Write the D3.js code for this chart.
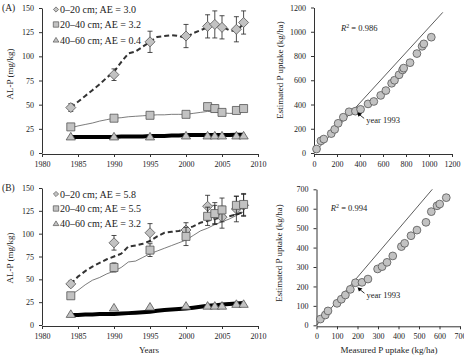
<!DOCTYPE html>
<html>
<head>
<meta charset="utf-8">
<script src="https://cdn.jsdelivr.net/npm/d3@7"></script>
<style>
  body { margin: 0; background: #fff; }
  svg { display: block; font-family: "Liberation Serif", serif; }
</style>
</head>
<body>
<div id="chart"></div>
<script>
// sampling years (measured points)
const years = [1984, 1990, 1995, 2000, 2003, 2004, 2005, 2007, 2008];
// yearly simulated values
const simYears = [1984, 1985, 1986, 1987, 1988, 1989, 1990, 1991, 1992, 1993, 1994, 1995, 1996,
                  1997, 1998, 1999, 2000, 2001, 2002, 2003, 2004, 2005, 2006, 2007, 2008];

// Panel A
const aTop = [47, 81, 115, 121, 131, 133, 130, 128, 135];
const aTopErr = [4, 6, 11, 12, 12, 14, 12, 13, 12];
const aMid = [27, 36, 39, 40, 48, 46, 42, 44, 46];
const aLow = [17, 17, 17, 18, 18, 18, 18, 18, 18];
const aTopSim = [47, 53, 59, 65, 71, 78, 84, 94, 103, 105, 110, 115, 120, 121, 122, 121, 119, 124, 127, 130, 133, 131, 127, 126, 134];
const aMidSim = [26, 28, 29.5, 31, 33, 34.5, 36, 36.5, 37.5, 38, 38.5, 39, 39.5, 39.5, 40, 40, 40, 41, 42, 43, 42.5, 41.5, 41, 41, 43];
const aLowSim = [16.5, 16.5, 16.5, 16.5, 16.5, 16.5, 16.5, 17, 17, 17, 17, 17.5, 17.5, 17.5, 18, 18, 18.5, 18.5, 18.5, 18.5, 18.5, 18.5, 18.5, 19, 19];
const aLegend = ["0\u201320 cm; AE = 3.0", "20\u201340 cm; AE = 3.2", "40\u201360 cm; AE = 0.4"];

// Panel B
const bTop = [45, 90, 101, 104, 130, 121, 118, 127, 131];
const bTopErr = [3, 8, 10, 8, 12, 10, 12, 14, 12];
const bMid = [32, 63, 82, 97, 119, 122, 126, 131, 132];
const bMidErr = [2, 5, 7, 10, 10, 12, 13, 10, 12];
const bLow = [12, 19, 20, 21, 21, 21, 21, 23, 23];
const bTopSim = [45, 53, 59, 64, 68, 72, 75, 78, 86, 87, 89, 92, 97, 101, 102, 103, 105, 108, 112, 114, 116, 118, 119, 121, 124];
const bMidSim = [33, 38, 44, 49, 52, 56, 59, 63, 69, 70, 74, 78, 81, 84, 87, 90, 93, 98, 103, 106, 110, 113, 116, 120, 124];
const bLowSim = [11, 11, 11.5, 11.5, 12, 12, 12, 12.5, 13, 13.5, 14, 14.5, 15.5, 16.5, 17, 17.5, 18, 19, 20, 21, 21.5, 22.5, 23, 23.5, 24];
const bLegend = ["0\u201320 cm; AE = 5.8", "20\u201340 cm; AE = 5.5", "40\u201360 cm; AE = 3.2"];

// Scatter (measured vs estimated cumulative P uptake)
const measA = [22, 60, 85, 150, 180, 210, 255, 305, 360, 405, 470, 520, 580, 625, 675, 700, 740, 770, 780, 835, 895, 940, 955, 1020];
const estA  = [33, 100, 115, 160, 195, 245, 295, 340, 345, 360, 405, 425, 475, 515, 575, 600, 645, 685, 700, 745, 820, 880, 900, 955];
const lineA = [[0, 0], [1120, 1160]];
const measB = [19, 43, 56, 100, 121, 141, 165, 190, 222, 251, 298, 320, 344, 372, 414, 430, 461, 490, 534, 560, 588, 601, 633];
const estB  = [32, 53, 74, 113, 134, 156, 185, 219, 221, 238, 290, 302, 324, 357, 405, 422, 461, 490, 530, 585, 615, 624, 657];
const lineB = [[0, 0], [565, 700]];

const W = 464, H = 358;
const svg = d3.select("#chart").append("svg").attr("width", W).attr("height", H);

const fill = "#c2c2c2", edge = "#555";
const diamond = r => `M0,${-r}L${r},0L0,${r}L${-r},0Z`;
const square = r => `M${-r},${-r}H${r}V${r}H${-r}Z`;
const triangle = r => `M0,${-r}L${r * 1.1},${r * 0.8}L${-r * 1.1},${r * 0.8}Z`;

function styleAxis(g)
{
    g.selectAll("path,line").attr("stroke", "#333");
    g.selectAll("text").attr("fill", "#222").style("font-size", "8px").style("font-family", "Liberation Serif");
}

function drawTimePanel(cfg)
{
    const x = d3.scaleLinear().domain([1980, 2010]).range([42, 258]);
    const y = d3.scaleLinear().domain([0, 150]).range(cfg.yRange);
    const g = svg.append("g");

    g.append("g")
        .attr("transform", "translate(0," + (y(0) + 1) + ")")
        .call(d3.axisBottom(x).tickValues([1980, 1985, 1990, 1995, 2000, 2005, 2010]).tickFormat(d3.format("d")).tickSize(3).tickSizeOuter(0).tickPadding(4))
        .call(styleAxis);
    g.append("g")
        .attr("transform", "translate(42,0)")
        .call(d3.axisLeft(y).tickValues([0, 25, 50, 75, 100, 125, 150]).tickSize(3).tickSizeOuter(0).tickPadding(5))
        .call(styleAxis);

    // simulated lines
    const line = vals => d3.line().x((d, i) => x(simYears[i])).y(d => y(d))(vals);
    g.append("path").attr("d", line(cfg.lowSim)).attr("fill", "none").attr("stroke", "#000").attr("stroke-width", 4);
    g.append("path").attr("d", line(cfg.midSim)).attr("fill", "none").attr("stroke", "#444").attr("stroke-width", 0.7);
    g.append("path").attr("d", line(cfg.topSim)).attr("fill", "none").attr("stroke", "#333").attr("stroke-width", 2).attr("stroke-dasharray", "5,3");

    function errorBars(vals, errs)
    {
        if (!errs) return;
        const eb = g.append("g").attr("stroke", "#222").attr("stroke-width", 0.8);
        years.forEach((yr, i) => {
            const cx = x(yr);
            eb.append("line").attr("x1", cx).attr("x2", cx).attr("y1", y(vals[i] - errs[i])).attr("y2", y(vals[i] + errs[i]));
            eb.append("line").attr("x1", cx - 2.5).attr("x2", cx + 2.5).attr("y1", y(vals[i] - errs[i])).attr("y2", y(vals[i] - errs[i]));
            eb.append("line").attr("x1", cx - 2.5).attr("x2", cx + 2.5).attr("y1", y(vals[i] + errs[i])).attr("y2", y(vals[i] + errs[i]));
        });
    }
    function markers(vals, shape)
    {
        g.append("g").selectAll("path").data(vals).join("path")
            .attr("transform", (d, i) => "translate(" + x(years[i]) + "," + y(d) + ")")
            .attr("d", shape)
            .attr("fill", fill).attr("stroke", edge).attr("stroke-width", 0.8);
    }
    errorBars(cfg.top, cfg.topErr);
    markers(cfg.top, diamond(5));
    errorBars(cfg.mid, cfg.midErr);
    markers(cfg.mid, square(4));
    markers(cfg.low, triangle(4.2));

    // legend
    const shapes = [diamond(2.6), square(2.7), triangle(2.6)];
    cfg.legend.forEach((t, i) => {
        const ly = cfg.legendY[i];
        g.append("path").attr("transform", "translate(56," + ly + ")").attr("d", shapes[i])
            .attr("fill", fill).attr("stroke", edge).attr("stroke-width", 0.7);
        g.append("text").attr("x", 60).attr("y", ly + 3.5).style("font-size", "10px").attr("fill", "#222").text(t);
    });

    g.append("text").attr("x", 2).attr("y", cfg.yRange[1] + 3).style("font-size", "9.5px").attr("fill", "#222").text(cfg.tag);
    g.append("text")
        .attr("transform", "translate(13," + cfg.labelY + ") rotate(-90)")
        .attr("text-anchor", "middle").style("font-size", "9px").attr("fill", "#222").text("AL-P (mg/kg)");
    if (cfg.xLabel)
        g.append("text").attr("x", 149).attr("y", 353).attr("text-anchor", "middle").style("font-size", "9px").attr("fill", "#222").text(cfg.xLabel);
}

function drawScatterPanel(cfg)
{
    const x = d3.scaleLinear().domain([0, cfg.max]).range(cfg.xRange);
    const y = d3.scaleLinear().domain([0, cfg.max]).range(cfg.yRange);
    const g = svg.append("g");
    const ticks = d3.range(0, cfg.max + 1, cfg.step);

    g.append("g")
        .attr("transform", "translate(0," + (y(0) + 1) + ")")
        .call(d3.axisBottom(x).tickValues(ticks).tickFormat(d3.format("d")).tickSize(3).tickSizeOuter(0).tickPadding(4))
        .call(styleAxis);
    g.append("g")
        .attr("transform", "translate(" + cfg.xRange[0] + ",0)")
        .call(d3.axisLeft(y).tickValues(ticks).tickFormat(d3.format("d")).tickSize(3).tickSizeOuter(0).tickPadding(5))
        .call(styleAxis);

    g.append("path")
        .attr("d", d3.line().x(d => x(d[0])).y(d => y(d[1]))(cfg.line))
        .attr("stroke", "#333").attr("stroke-width", 0.8).attr("fill", "none");

    g.append("g").selectAll("circle").data(cfg.meas).join("circle")
        .attr("cx", d => x(d)).attr("cy", (d, i) => y(cfg.est[i])).attr("r", 3.9)
        .attr("fill", fill).attr("stroke", edge).attr("stroke-width", 0.8);

    const r2 = g.append("text").attr("x", x(cfg.r2At[0])).attr("y", y(cfg.r2At[1])).style("font-size", "8.5px").attr("fill", "#222");
    r2.append("tspan").style("font-style", "italic").text("R");
    r2.append("tspan").attr("dy", -3).style("font-size", "6px").text("2");
    r2.append("tspan").attr("dy", 3).text(" = " + cfg.r2);

    // year 1993 arrow
    const tip = [x(cfg.arrow[0]), y(cfg.arrow[1])];
    g.append("line").attr("x1", tip[0] + 2).attr("y1", tip[1] + 2).attr("x2", tip[0] + 7).attr("y2", tip[1] + 6)
        .attr("stroke", "#000").attr("stroke-width", 0.8);
    g.append("path").attr("d", `M${tip[0]},${tip[1]}l5,1.2l-3.6,3.2Z`).attr("fill", "#000");
    g.append("text").attr("x", tip[0] + 9).attr("y", tip[1] + 11).style("font-size", "8.5px").attr("fill", "#222").text("year 1993");

    g.append("text")
        .attr("transform", "translate(" + cfg.labelX + "," + cfg.labelY + ") rotate(-90)")
        .attr("text-anchor", "middle").style("font-size", "9px").attr("fill", "#222").text("Estimated P uptake (kg/ha)");
    if (cfg.xLabel)
        g.append("text").attr("x", 389).attr("y", 353).attr("text-anchor", "middle").style("font-size", "9px").attr("fill", "#222").text(cfg.xLabel);
}

drawTimePanel({
    tag: "(A)", yRange: [153, 8], labelY: 74,
    top: aTop, topErr: aTopErr, mid: aMid, midErr: null, low: aLow,
    topSim: aTopSim, midSim: aMidSim, lowSim: aLowSim,
    legend: aLegend, legendY: [9.5, 24.5, 40]
});
drawTimePanel({
    tag: "(B)", yRange: [325, 188], labelY: 258, xLabel: "Years",
    top: bTop, topErr: bTopErr, mid: bMid, midErr: bMidErr, low: bLow,
    topSim: bTopSim, midSim: bMidSim, lowSim: bLowSim,
    legend: bLegend, legendY: [194, 208.5, 223.5]
});
drawScatterPanel({
    max: 1200, step: 200, xRange: [314, 452], yRange: [153, 7.5],
    meas: measA, est: estA, line: lineA, r2: "0.986", r2At: [235, 1010],
    arrow: [375, 335], labelX: 283, labelY: 70
});
drawScatterPanel({
    max: 700, step: 100, xRange: [316.5, 460], yRange: [325.3, 189.3],
    meas: measB, est: estB, line: lineB, r2: "0.994", r2At: [70, 590],
    arrow: [200, 196], labelX: 282, labelY: 253, xLabel: "Measured P uptake (kg/ha)"
});
</script>
</body>
</html>
